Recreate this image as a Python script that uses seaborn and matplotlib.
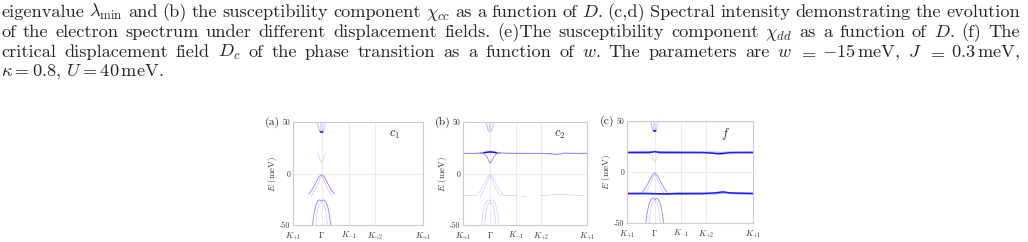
import numpy as np
import matplotlib
matplotlib.use("Agg")
import matplotlib.pyplot as plt
import seaborn as sns

# 能带谱 (spectral intensity) c1 / c2 / f 三个面板

# 高对称点位置 (路径坐标 0..1)
k_ticks = [0.0, 0.22, 0.43, 0.63, 1.0]
k_labels = ['$K_{+1}$', r'$\Gamma$', '$K_{-1}$', '$K_{+2}$', '$K_{+1}$']
e_ticks = [-50, 0, 50]
e_labels = ['-50', '0', '50']

# ---- (a) c1 ----
a_up1_x = [0.19, 0.197, 0.205, 0.213, 0.22]
a_up1_y = [50, 44, 41, 44, 50]
a_up2_x = [0.21, 0.217, 0.225, 0.233, 0.24]
a_up2_y = [50, 44, 41, 44, 50]
a_up3_x = [0.185, 0.2, 0.22, 0.24, 0.255]
a_up3_y = [50, 43, 40, 43, 50]
a_dot_x = [0.21, 0.22, 0.23]
a_dot_y = [40.5, 40, 40.5]
a_v_x = [0.19, 0.205, 0.22, 0.235, 0.25]
a_v_y = [20, 14, 11, 14, 20]
a_mid1_x = [0.12, 0.15, 0.18, 0.2, 0.22, 0.24, 0.26, 0.29, 0.32]
a_mid1_y = [-20, -15, -8, -3, -1, -3, -8, -15, -20]
a_mid2_x = [0.14, 0.17, 0.195, 0.21, 0.22, 0.23, 0.245, 0.27, 0.30]
a_mid2_y = [-22, -16, -9, -4, -2.5, -4, -9, -16, -22]
a_low1_x = [0.15, 0.16, 0.175, 0.19, 0.205, 0.22, 0.235, 0.25, 0.265, 0.28, 0.29]
a_low1_y = [-50, -40, -31, -27, -25.5, -27, -25.5, -27, -31, -40, -50]
a_low2_x = [0.175, 0.185, 0.2, 0.22, 0.24, 0.255, 0.265]
a_low2_y = [-50, -38, -30, -28, -30, -38, -50]

# ---- (b) c2 ----
b_flat_x = [0.0, 0.1, 0.16, 0.2, 0.22, 0.24, 0.28, 0.4, 0.6, 0.7, 0.76, 0.82, 0.88, 1.0]
b_flat_y = [19.5, 19.5, 20, 20.5, 20.8, 20.5, 20, 19.5, 19.5, 19.3, 18.5, 19.8, 19.5, 19.5]
b_top_x = [0.17, 0.2, 0.22, 0.24, 0.27]
b_top_y = [20.3, 20.8, 21, 20.8, 20.3]
b_dip_x = [0.14, 0.17, 0.19, 0.205, 0.22, 0.235, 0.25, 0.27, 0.30]
b_dip_y = [20, 19, 17, 13, 10, 13, 17, 19, 20]
b_left_x = [0.0, 0.06, 0.11]
b_left_y = [-21, -21, -21]
b_right1_x = [0.31, 0.36, 0.43]
b_right1_y = [-21, -21.5, -21.5]
b_right2_x = [0.47, 0.5]
b_right2_y = [-21.5, -21.5]
b_right3_x = [0.63, 0.7, 0.75, 0.8, 0.9, 0.97]
b_right3_y = [-21.5, -21, -20, -20.5, -21, -21.5]

# ---- (c) f ----
c_top1_x = [0.0, 0.1, 0.17, 0.2, 0.22, 0.24, 0.27, 0.4, 0.6, 0.68, 0.72, 0.76, 0.8, 0.85, 1.0]
c_top1_y = [19, 19, 19, 19.5, 20, 19.5, 19, 19, 19, 18.5, 17.8, 18, 18.8, 19, 19]
c_top2_x = [0.0, 0.15, 0.3, 0.5, 0.7, 0.75, 0.8, 1.0]
c_top2_y = [19.8, 20, 20, 19.8, 19.5, 19.2, 19.6, 19.8]
c_bot1_x = [0.0, 0.1, 0.14, 0.3, 0.4, 0.6, 0.7, 0.76, 0.82, 1.0]
c_bot1_y = [-21, -21, -21, -21.5, -21, -21, -20.5, -19.5, -20.5, -21]
c_bot2_x = [0.0, 0.2, 0.3, 0.5, 0.7, 0.78, 0.85, 1.0]
c_bot2_y = [-21.8, -21.5, -22, -22, -21.5, -20.5, -21.5, -21.8]

panels = ['(a)', '(b)', '(c)']
names = ['$c_1$', '$c_2$', '$f$']

W, H = 1028, 242
sns.set_style("white")
plt.rcParams['font.family'] = ['cmr10', 'DejaVu Serif']
plt.rcParams['mathtext.fontset'] = 'cm'
plt.rcParams['axes.formatter.use_mathtext'] = True
plt.rcParams['axes.unicode_minus'] = False

fig = plt.figure(figsize=(W / 100, H / 100), dpi=100)

# ---- 图注文字 (两端对齐) ----
lines = [
    ['eigenvalue', r'$\lambda_{\min}$', 'and', '(b)', 'the', 'susceptibility', 'component',
     r'$\chi_{cc}$', 'as', 'a', 'function', 'of', '$D$.', '(c,d)', 'Spectral', 'intensity',
     'demonstrating', 'the', 'evolution'],
    ['of', 'the', 'electron', 'spectrum', 'under', 'different', 'displacement', 'fields.',
     '(e)The', 'susceptibility', 'component', r'$\chi_{dd}$', 'as', 'a', 'function', 'of',
     '$D$.', '(f)', 'The'],
    ['critical', 'displacement', 'field', '$D_c$', 'of', 'the', 'phase', 'transition', 'as',
     'a', 'function', 'of', '$w$.', 'The', 'parameters', 'are', '$w$', '$=$',
     r'$-15\,\mathrm{meV}$,', '$J$', '$=$', r'$0.3\,\mathrm{meV}$,'],
]
last_line = r'$\kappa=0.8$, $U=40\,\mathrm{meV}$.'
baselines = [17, 37, 57, 76]
fs = 13.2

renderer = fig.canvas.get_renderer()
for words, yb in zip(lines, baselines):
    ts = [fig.text(0, 1 - yb / H, w, fontsize=fs, va='baseline', ha='left') for w in words]
    ws = [t.get_window_extent(renderer).width for t in ts]
    # 等号两边的空白比普通词间距小一些
    wt = [0.7 if (words[k] == '$=$' or words[k + 1] == '$=$') else 1.0
          for k in range(len(words) - 1)]
    unit = (1020 - 1 - sum(ws)) / sum(wt)
    x = 1
    for k, (t, w) in enumerate(zip(ts, ws)):
        t.set_x(x / W)
        if k < len(wt):
            x += w + unit * wt[k]
fig.text(1 / W, 1 - baselines[3] / H, last_line, fontsize=fs, va='baseline', ha='left')

# ---- 三个面板 (像素位置: 左, 右, 上, 下) ----
boxes = [(293, 423, 122, 225), (463, 587, 122, 225), (627, 753, 121, 223)]

strong = dict(color='#0000ff', alpha=0.9, linewidth=1.1)
mid = dict(color='#3333ff', alpha=0.55, linewidth=0.65)
faint = dict(color='#4444ff', alpha=0.28, linewidth=0.5)
band = dict(color='#0000ff', alpha=0.45, linewidth=0.8)


def line(ax, x, y, st):
    sns.lineplot(x=x, y=y, ax=ax, sort=False, estimator=None, **st)


axes = []
for i, (l, r, t, b) in enumerate(boxes):
    ax = fig.add_axes([l / W, 1 - b / H, (r - l) / W, (b - t) / H])
    ax.set_xlim(0, 1)
    ax.set_ylim(-50, 50)
    ax.set_xticks(k_ticks)
    ax.set_xticklabels(k_labels, fontsize=6)
    ax.set_yticks(e_ticks)
    ax.set_yticklabels(e_labels, fontsize=5.6)
    ax.tick_params(axis='x', length=0, pad=3.5, colors='#333333')
    ax.tick_params(axis='y', length=0, pad=2, colors='#333333')
    ax.grid(True, color='#e8e8e8', linewidth=0.6)
    for s in ax.spines.values():
        s.set_color('#cccccc')
        s.set_linewidth(0.8)
    ax.set_ylabel('$E$ (meV)', fontsize=6.5, labelpad=1, color='#333333')
    ax.text(-0.1, 1.0, panels[i], transform=ax.transAxes, fontsize=8.5,
            ha='right', va='center')
    ax.text(0.78, 0.87, names[i], transform=ax.transAxes, fontsize=9,
            ha='center', va='center')
    # 顶部的导带
    line(ax, a_up1_x, a_up1_y, faint)
    line(ax, a_up2_x, a_up2_y, faint)
    line(ax, a_up3_x, a_up3_y, faint)
    if i != 1:
        line(ax, a_dot_x, a_dot_y, strong)
    # 底部的价带
    line(ax, a_low1_x, a_low1_y, mid if i != 1 else faint)
    line(ax, a_low2_x, a_low2_y, faint)
    axes.append(ax)

ax_a, ax_b, ax_c = axes

# (a)
line(ax_a, a_v_x, a_v_y, faint)
line(ax_a, a_mid1_x, a_mid1_y, mid)
line(ax_a, a_mid2_x, a_mid2_y, faint)

# (b)
line(ax_b, b_flat_x, b_flat_y, band)
line(ax_b, b_top_x, b_top_y, strong)
line(ax_b, b_dip_x, b_dip_y, mid)
line(ax_b, a_mid1_x, a_mid1_y, faint)
line(ax_b, a_mid2_x, a_mid2_y, faint)
line(ax_b, b_left_x, b_left_y, faint)
line(ax_b, b_right1_x, b_right1_y, faint)
line(ax_b, b_right2_x, b_right2_y, faint)
line(ax_b, b_right3_x, b_right3_y, faint)

# (c)
line(ax_c, c_top1_x, c_top1_y, strong)
line(ax_c, c_top2_x, c_top2_y, mid)
line(ax_c, b_dip_x, b_dip_y, faint)
line(ax_c, c_bot1_x, c_bot1_y, strong)
line(ax_c, c_bot2_x, c_bot2_y, mid)
line(ax_c, a_mid1_x, a_mid1_y, mid)
line(ax_c, a_mid2_x, a_mid2_y, faint)

fig.savefig('out.png', dpi=100)
